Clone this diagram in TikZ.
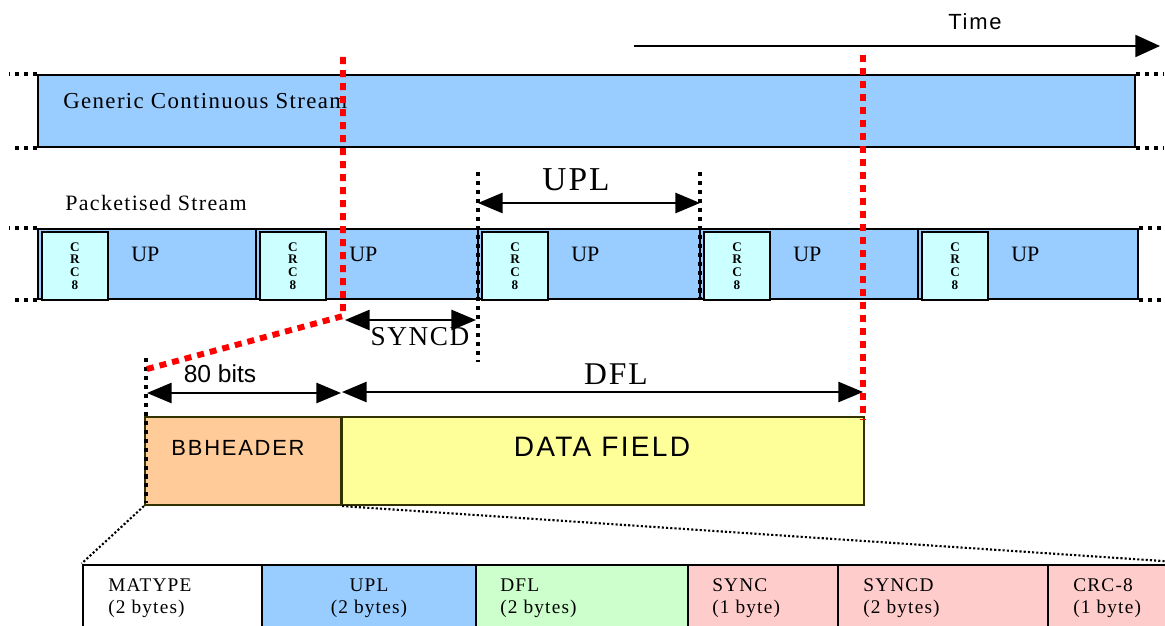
\documentclass[tikz,border=0pt]{standalone}
\usepackage{fontspec}
\setmainfont{Liberation Serif}
\setsansfont{Liberation Sans}
\newfontfamily\rmspaced[LetterSpace=6]{Liberation Serif}
\newfontfamily\sfspaced[LetterSpace=8]{Liberation Sans}
\usetikzlibrary{arrows.meta, positioning, fit}

\definecolor{streamblue}{HTML}{99CCFF}
\definecolor{crccyan}{HTML}{CCFFFF}
\definecolor{hdrorange}{HTML}{FFCC99}
\definecolor{datayellow}{HTML}{FFFF99}
\definecolor{dflgreen}{HTML}{CCFFCC}
\definecolor{syncpink}{HTML}{FFCCCC}
\definecolor{fieldedge}{HTML}{333300}

\begin{document}
\begin{tikzpicture}[
          x = 0.02cm, y = -0.02cm,
every node/.style = {inner sep=0pt},
     stream/.style = {draw, line width=1.5pt, fill=streamblue},
     crcbox/.style = {draw, line width=1.2pt, fill=crccyan},
      field/.style = {draw=fieldedge, line width=1.2pt},
   tablecell/.style = {draw, line width=1.6pt},
     crclbl/.style = {font=\bfseries\fontsize{7.5}{7.2}\selectfont, align=center},
    celllbl/.style = {font=\rmspaced\fontsize{11}{12.5}\selectfont, align=left, anchor=west},
        cut/.style = {red, line width=3.4pt, dash pattern=on 4pt off 3.4pt},
      guide/.style = {line width=2.3pt, dash pattern=on 2.3pt off 2.8pt},
        fan/.style = {line width=1.2pt, dash pattern=on 1.2pt off 1.2pt},
     dimarr/.style = {line width=1.1pt, {Triangle[length=14pt,width=11.5pt]}-{Triangle[length=14pt,width=11.5pt]}}
                    ]
\useasboundingbox (0,0) rectangle (1165,625);
\clip (0,0) rectangle (1165,625);

% time axis
\coordinate (t0) at (634,46);
\coordinate (t1) at (1160,46);
\draw[line width=1.1pt, -{Triangle[length=14pt,width=12.5pt]}] (t0) -- (t1);
\node (time) [font=\sfspaced\fontsize{12.5}{14}\selectfont] at (975,22) {Time};

% generic stream
\node (gcs) [stream, fit={(38,75) (1135,147)}] {};
\node (gcslbl) [anchor=west, font=\rmspaced\fontsize{13}{15}\selectfont] at (63,101) {Generic Continuous Stream};
\draw[guide] (gcs.north west) -- ++(-28,0);
\draw[guide] (gcs.south west) -- ++(-26,0);
\draw[guide] (gcs.north east) -- ++(28,0);
\draw[guide] (gcs.south east) -- ++(28,0);

% packetised stream
\node (pslbl) [anchor=west, font=\rmspaced\fontsize{12.5}{14}\selectfont] at (65,203) {Packetised Stream};
\foreach \l/\r [count=\i] in {38/256, 256/478, 478/700, 700/918, 918/1138}{
  \node (pk\i) [stream, fit={(\l,229) (\r,299)}] {};
  \node (crc\i) [crcbox, fit={(\l+4,232) (\l+70,300)}] {};
  \node[crclbl] at (crc\i) {C\\R\\C\\8};
  \node (up\i) [anchor=west, font=\fontsize{12.5}{14}\selectfont] at (\l+93,254) {UP};
}
\draw[guide] (pk1.north west) -- ++(-28,0);
\draw[guide] (pk1.south west) -- ++(-26,0);
\draw[guide] (pk5.north east) -- ++(28,0);
\draw[guide] (pk5.south east) -- ++(28,0);

% UPL and SYNCD
\path (478,172) coordinate (g1a) (478,362) coordinate (g1b)
      (700,172) coordinate (g2a) (700,300) coordinate (g2b);
\draw[guide] (g1a) -- (g1b);
\draw[guide] (g2a) -- (g2b);
\coordinate (upla) at (478,203);
\coordinate (uplb) at (700,203);
\draw[dimarr] (upla) -- (uplb);
\node (upllbl) [font=\rmspaced\fontsize{19}{21}\selectfont] at (576,180) {UPL};
\coordinate (synca) at (345,320);
\coordinate (syncb) at (476,320);
\draw[dimarr] (synca) -- (syncb);
\node (syncdlbl) [font=\rmspaced\fontsize{15.5}{17}\selectfont] at (420,337) {SYNCD};

% BBFRAME
\node (hdr) [field, fill=hdrorange, fit={(145,417) (341,505)}] {};
\node (data) [field, fill=datayellow, fit={(342,417) (864,505)}] {};
\node (hdrlbl) [font=\sfspaced\fontsize{12.5}{14}\selectfont] at (238,448) {BBHEADER};
\node (datalbl) [font=\sfspaced\fontsize{16}{18}\selectfont] at (602,447) {DATA FIELD};
\path (146,358) coordinate (g3a) (146,503) coordinate (g3b);
\draw[guide] (g3a) -- (g3b);
\coordinate (bita) at (147,393);
\coordinate (bitb) at (341,393);
\draw[dimarr] (bita) -- (bitb);
\node (bitlbl) [font=\fontsize{14}{16}\sffamily\selectfont] at (220,374) {80 bits};
\coordinate (dfla) at (342,392);
\coordinate (dflb) at (863,392);
\draw[dimarr] (dfla) -- (dflb);
\node (dfllbl) [font=\rmspaced\fontsize{18}{20}\selectfont] at (616,374) {DFL};

% header fields
\foreach \l/\r/\c [count=\i] in {83/262/white, 262/476/streamblue, 476/688/dflgreen,
                                 688/838/syncpink, 838/1048/syncpink, 1048/1200/syncpink}
  \node (cell\i) [tablecell, fill=\c, fit={(\l,565) (\r,660)}] {};
\node (matype) [celllbl] at (108,598) {MATYPE\\(2 bytes)};
\node (upl)    [celllbl, anchor=center, align=center] at (369,598) {UPL\\(2 bytes)};
\node (dfl)    [celllbl] at (500,598) {DFL\\(2 bytes)};
\node (sync)   [celllbl] at (712,598) {SYNC\\(1 byte)};
\node (syncd)  [celllbl] at (863,598) {SYNCD\\(2 bytes)};
\node (crc)    [celllbl] at (1073,598) {CRC-8\\(1 byte)};
\draw[fan] (hdr.south west) -- (cell1.north west);
\draw[fan] (hdr.south east) -- (cell6.north east);

% cut lines
\path (343,57) coordinate (c1a) (343,316) coordinate (c1b) (147,369) coordinate (c1c)
      (863,55) coordinate (c2a) (863,420) coordinate (c2b);
\draw[cut] (c1a) -- (c1b) -- (c1c);
\draw[cut] (c2a) -- (c2b);
\end{tikzpicture}
\end{document}
